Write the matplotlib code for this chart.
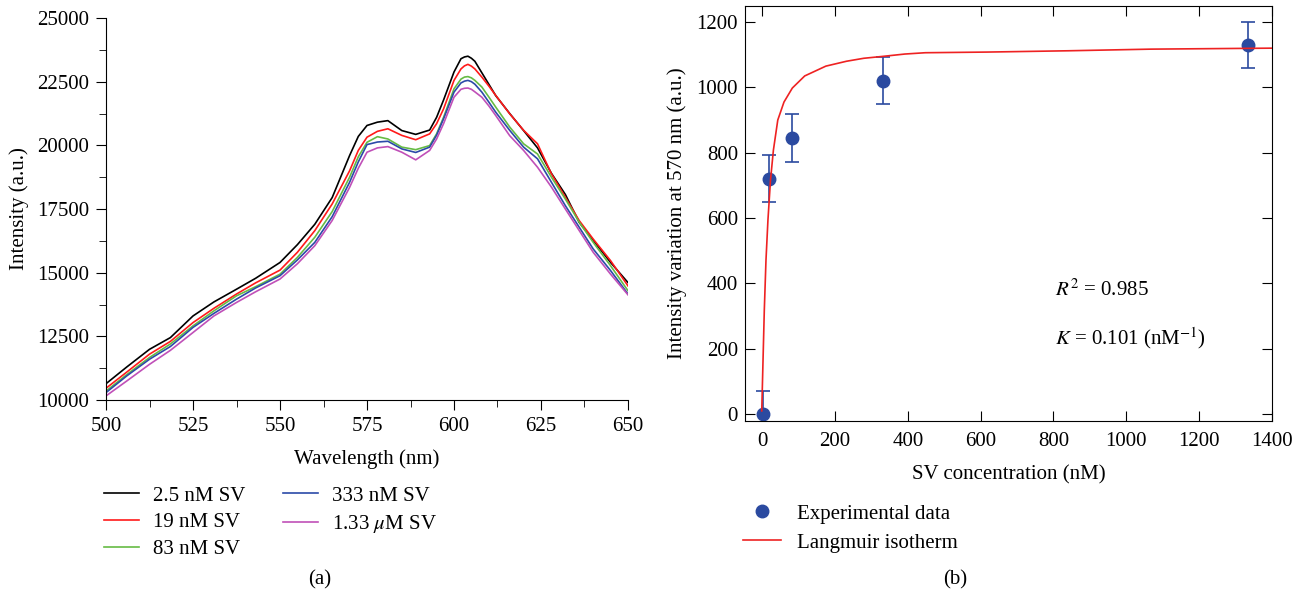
import matplotlib
matplotlib.use("Agg")
import matplotlib.pyplot as plt

plt.rcParams['font.family'] = ['Liberation Serif', 'DejaVu Serif']
plt.rcParams['mathtext.fontset'] = 'stix'
FS = 15

# ---------------- data: panel (a) ----------------
wavelength = [500, 506, 512.5, 518.5, 525, 531, 537.5, 543, 550, 555, 560, 565, 570, 572.5, 575,
              578, 581, 585, 589, 593, 595, 597, 600, 602, 603, 604, 605, 606, 608, 610, 612,
              616, 620, 624, 628, 632, 636, 640, 645, 650]
int_2_5nM = [10640, 11300, 11990, 12450, 13300, 13850, 14350, 14780, 15400, 16100, 16900, 17950,
             19600, 20350, 20780, 20910, 20970, 20580, 20430, 20600, 21100, 21780, 22880, 23400,
             23470, 23500, 23420, 23300, 22850, 22400, 21950, 21250, 20580, 19900, 18900, 18070,
             16970, 16270, 15400, 14610]
int_19nM = [10460, 11100, 11800, 12300, 13040, 13600, 14160, 14600, 15100, 15800, 16650, 17700,
            19000, 19800, 20320, 20550, 20650, 20390, 20220, 20450, 20850, 21430, 22550, 23000,
            23120, 23180, 23110, 23000, 22680, 22330, 21960, 21240, 20590, 20060, 18880, 17960,
            17040, 16320, 15470, 14480]
int_83nM = [10350, 11000, 11670, 12200, 12910, 13500, 14090, 14450, 14940, 15600, 16390, 17400,
            18750, 19550, 20120, 20340, 20250, 19930, 19830, 19990, 20450, 21100, 22220, 22600,
            22680, 22700, 22650, 22550, 22290, 21900, 21500, 20720, 20060, 19660, 18750, 17890,
            16980, 16190, 15270, 14290]
int_333nM = [10290, 10950, 11600, 12100, 12850, 13400, 13960, 14400, 14880, 15500, 16190, 17200,
             18550, 19350, 20030, 20130, 20160, 19860, 19720, 19930, 20400, 21040, 22090, 22450,
             22520, 22550, 22500, 22400, 22090, 21700, 21300, 20590, 19930, 19470, 18550, 17630,
             16780, 15930, 15080, 14160]
int_1_33uM = [10160, 10750, 11400, 11950, 12650, 13300, 13830, 14250, 14750, 15350, 16060, 17050,
              18350, 19100, 19730, 19900, 19950, 19730, 19430, 19800, 20250, 20850, 21890, 22200,
              22240, 22250, 22200, 22100, 21890, 21550, 21170, 20380, 19800, 19140, 18360, 17500,
              16650, 15800, 14940, 14130]
series_labels = ["2.5 nM SV", "19 nM SV", "83 nM SV", "333 nM SV", r"1.33 $\mu$M SV"]
series_colors = ["#000000", "#ff1a1a", "#66bb44", "#2b4aa8", "#c050b8"]

# ---------------- data: panel (b) ----------------
conc = [2.5, 19, 83, 333, 1333]
delta_int = [0, 720, 845, 1020, 1130]
delta_err = [72, 72, 72, 72, 71]
fit_x = [-1, 2.5, 6, 10.6, 16, 23, 31, 43, 60, 83, 117, 175, 232, 279, 333, 392, 448, 617,
         842, 1068, 1400]
fit_y = [10, 165, 318, 471, 594, 716, 808, 900, 955, 998, 1035, 1065, 1080, 1089, 1095, 1102,
         1106, 1108, 1112, 1117, 1120]

W, H = 1303, 597
fig = plt.figure(figsize=(W / 100, H / 100), dpi=100)

# ---------- panel (a) ----------
axa = fig.add_axes([106 / W, 1 - 400 / H, (628 - 106) / W, (400 - 18) / H])
spectra = [int_2_5nM, int_19nM, int_83nM, int_333nM, int_1_33uM]
handles = []
for vals, lab, col in zip(spectra, series_labels, series_colors):
    h, = axa.plot(wavelength, vals, color=col, lw=1.2, label=lab, solid_joinstyle='round')
    handles.append(h)
axa.set_xlim(500, 650)
axa.set_ylim(10000, 25000)
axa.set_xticks([500, 525, 550, 575, 600, 625, 650])
axa.set_xticks([512.5, 537.5, 562.5, 587.5, 612.5, 637.5], minor=True)
axa.set_yticks([10000, 12500, 15000, 17500, 20000, 22500, 25000])
axa.set_yticks([11250, 13750, 16250, 18750, 21250, 23750], minor=True)
axa.spines['top'].set_visible(False)
axa.spines['right'].set_visible(False)
axa.tick_params(which='both', direction='out', labelsize=FS)
axa.tick_params(which='major', length=7, pad=5)
axa.tick_params(which='minor', length=5)
axa.set_xlabel("Wavelength (nm)", fontsize=FS, labelpad=10)
axa.set_ylabel("Intensity (a.u.)", fontsize=FS, labelpad=6)

fig.legend(handles, series_labels, loc='upper left', bbox_to_anchor=(104 / W, 1 - 486 / H),
           ncol=2, frameon=False, fontsize=FS, handlelength=1.7, handletextpad=0.65,
           columnspacing=1.8, labelspacing=0.35, borderpad=0, borderaxespad=0)

# ---------- panel (b) ----------
axb = fig.add_axes([745 / W, 1 - 421 / H, (1272 - 745) / W, (421 - 6) / H])
fit_line, = axb.plot(fit_x, fit_y, color="#ee2222", lw=1.2, label="Langmuir isotherm", zorder=3)
eb = axb.errorbar(conc, delta_int, yerr=delta_err, fmt='o', color="#2b4aa0", ms=9,
                  ecolor="#2b4aa0", elinewidth=1.2, capsize=5, capthick=1.2,
                  label="Experimental data", zorder=2)
axb.set_xlim(-47, 1400)
axb.set_ylim(-21, 1249)
axb.set_xticks([0, 200, 400, 600, 800, 1000, 1200, 1400])
axb.set_yticks([0, 200, 400, 600, 800, 1000, 1200])
axb.tick_params(direction='in', length=7, labelsize=FS, right=True, top=True)
axb.tick_params(axis='x', pad=8)
axb.tick_params(axis='y', pad=5)
axb.set_xlabel("SV concentration (nM)", fontsize=FS, labelpad=10)
axb.set_ylabel("Intensity variation at 570 nm (a.u.)", fontsize=FS, labelpad=7)
axb.text(803, 380, r"$R^2$ = 0.985", fontsize=FS, ha='left', va='center')
axb.text(803, 233, r"$K$ = 0.101 (nM$^{-1}$)", fontsize=FS, ha='left', va='center')

fig.legend([eb[0], fit_line], ["Experimental data", "Langmuir isotherm"], loc='upper left',
           bbox_to_anchor=(743 / W, 1 - 504 / H), frameon=False, fontsize=FS,
           handlelength=1.8, handletextpad=0.8, labelspacing=0.45, borderpad=0,
           borderaxespad=0, numpoints=1)

fig.text(320 / W, 1 - 580 / H, "(a)", fontsize=FS, ha='center', va='center')
fig.text(955 / W, 1 - 580 / H, "(b)", fontsize=FS, ha='center', va='center')

fig.savefig("out.png", dpi=100)
